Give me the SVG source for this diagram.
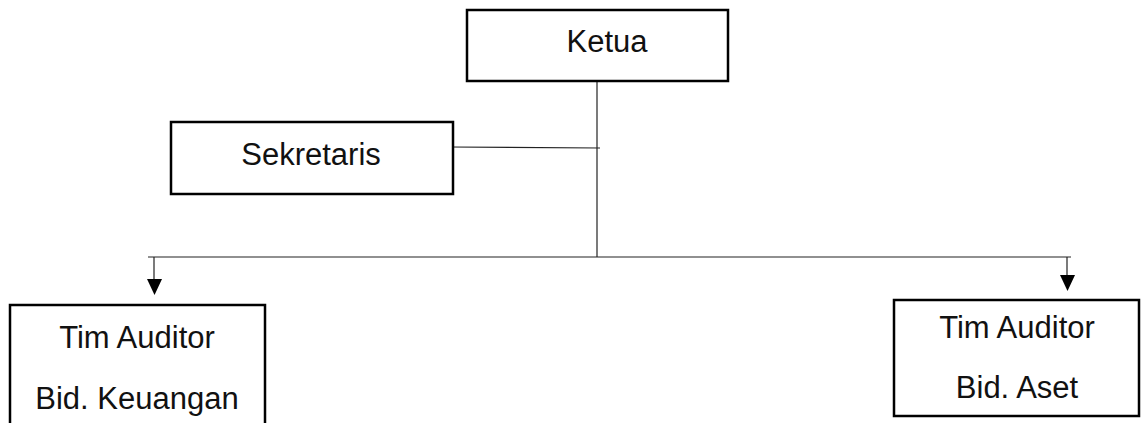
<svg xmlns="http://www.w3.org/2000/svg" width="1144" height="423" viewBox="0 0 1144 423">
<style>
.box{fill:#fff;stroke:#000;stroke-width:2.5}
.t{font-family:"Liberation Sans",Arial,sans-serif;font-size:31px;fill:#111;text-anchor:middle}
.ln{stroke:#222;stroke-width:1.2;fill:none}
</style>
<g id="connectors">
<line class="ln" x1="597" y1="81" x2="597" y2="257"/>
<line class="ln" x1="450" y1="147" x2="600" y2="148"/>
<line class="ln" x1="148" y1="257" x2="1071" y2="257"/>
<path d="M154,257 V280" class="ln"/>
<path d="M147,279 L162,279 L154.5,295 Z" fill="#000"/>
<path d="M1067,257 V276" class="ln"/>
<path d="M1060,275 L1075,275 L1067.5,291 Z" fill="#000"/>
</g>
<g id="ketua">
<rect class="box" x="467" y="10" width="261" height="71"/>
<text class="t" x="607" y="52">Ketua</text>
</g>
<g id="sekretaris">
<rect class="box" x="171" y="122" width="282" height="72"/>
<text class="t" x="311" y="165">Sekretaris</text>
</g>
<g id="tim-keuangan">
<rect class="box" x="10" y="305" width="255" height="140"/>
<text class="t" x="137" y="348">Tim Auditor</text>
<text class="t" x="137" y="409">Bid. Keuangan</text>
</g>
<g id="tim-aset">
<rect class="box" x="894" y="300" width="245" height="116"/>
<text class="t" x="1017" y="338">Tim Auditor</text>
<text class="t" x="1017" y="398">Bid. Aset</text>
</g>
</svg>
